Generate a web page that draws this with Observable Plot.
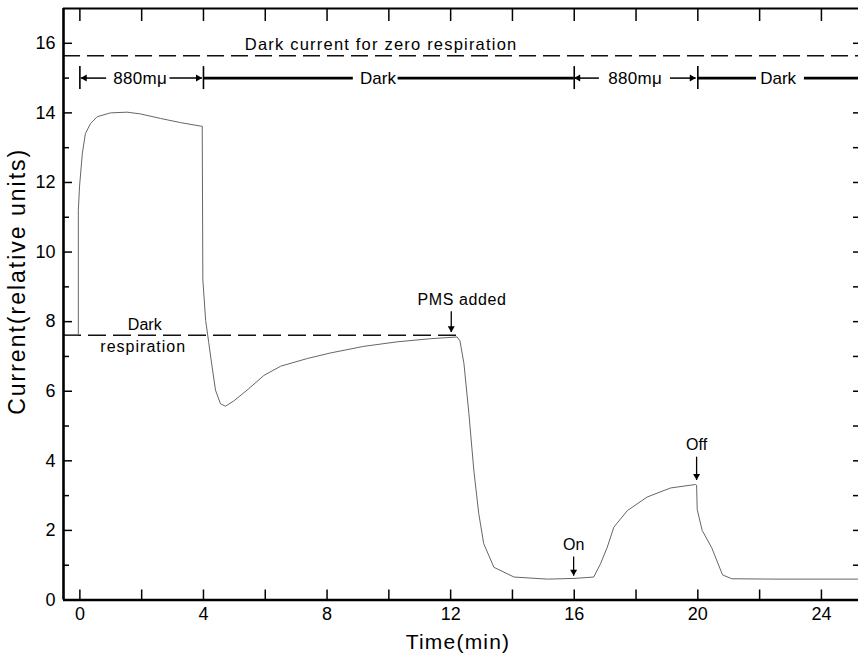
<!DOCTYPE html>
<html><head><meta charset="utf-8">
<script src="https://cdn.jsdelivr.net/npm/d3@7"></script>
<script src="https://cdn.jsdelivr.net/npm/@observablehq/plot@0.6"></script>
<style>body{margin:0;background:#fff}svg{display:block}</style>
</head><body><div id="chart"></div>
<script>
// Recorded trace: time (min) and current (relative units)
const time = [-0.54,-0.05,-0.05,-0.01,0.08,0.18,0.35,0.56,0.99,1.53,1.96,2.61,3.26,3.91,3.96,3.98,4.07,4.17,4.28,4.39,4.55,4.71,4.98,5.45,5.95,6.5,7.36,8.11,9.19,10.27,11.35,12.21,12.30,12.43,12.59,12.75,12.91,13.07,13.4,14.05,15.13,15.99,16.63,16.85,17.07,17.28,17.72,18.36,19.12,19.93,19.96,19.98,20.14,20.45,20.8,21.1,22.5,25.2];
const current = [7.62,7.62,11.2,11.9,12.84,13.41,13.70,13.89,14.00,14.02,13.97,13.84,13.72,13.62,13.62,9.2,8.04,7.40,6.70,6.03,5.64,5.57,5.72,6.06,6.45,6.72,6.94,7.10,7.29,7.42,7.51,7.56,7.45,6.8,5.36,3.73,2.48,1.62,0.94,0.66,0.60,0.62,0.66,1.04,1.52,2.09,2.57,2.96,3.22,3.32,3.30,2.6,2.0,1.5,0.72,0.61,0.60,0.60];

// Axis ticks
const xTickLabels = [0,4,8,12,16,20,24];
const xTicks = [0,2,4,6,8,10,12,14,16,18,20,22,24];
const yTickLabels = [0,2,4,6,8,10,12,14,16];
const yMinorTicks = [1,3,5,7,9,11,13,15];
const yAllTicks = [1,2,3,4,5,6,7,8,9,10,11,12,13,14,15,16];

// Reference levels
const zeroRespLevel = 15.64;
const darkRespLevel = 7.61;
const darkRespEnd = 12.2;
const bracketLevel = 15.0;

// Illumination bracket row
const bracketBars = [0, 4, 16, 20];
const bracketLabels = ["880mμ", "Dark", "880mμ", "Dark"];
const bracketLabelX = [1.95, 9.65, 17.97, 22.6];
const bracketArrowFrom = [0.85, 2.9, 16.8, 19.1];
const bracketArrowTo = [0.03, 3.95, 16.0, 19.93];
const bracketArrowDir = [-1, 1, -1, 1];
const darkLineFrom = [4.0, 10.3, 20.0, 23.45];
const darkLineTo = [8.85, 16.0, 21.9, 25.2];

// Event annotations
const eventLabels = ["PMS added", "On", "Off"];
const eventX = [12.02, 15.98, 19.96];
const eventLabelX = [12.37, 15.98, 19.96];
const eventLabelY = [8.62, 1.58, 4.45];
const eventArrowTop = [8.3, 1.25, 4.12];
const eventArrowTip = [7.7, 0.7, 3.45];

// Axis titles
const yTitle = "Current(relative units)";
const yTitleCenter = 9.16;
const xTitle = "Time(min)";

const xMin = -0.53, xMax = 25.2;

const trace = time.map((t, i) => ({t, c: current[i]}));
const brLab = bracketLabels.map((s, i) => ({s, x: bracketLabelX[i]}));
const brArr = bracketArrowFrom.map((x1, i) => ({x1, x2: bracketArrowTo[i], dir: bracketArrowDir[i]}));
const drkLn = darkLineFrom.map((x1, i) => ({x1, x2: darkLineTo[i]}));
const events = eventLabels.map((s, i) => ({s, x: eventX[i], lx: eventLabelX[i], ly: eventLabelY[i], y1: eventArrowTop[i], y2: eventArrowTip[i]}));

const font = "Liberation Sans, Arial, sans-serif";
const headR = 2.6, headOff = 3.9;

const chart = Plot.plot({
  width: 858,
  height: 663,
  marginLeft: 63,
  marginRight: 0,
  marginTop: 8,
  marginBottom: 63.5,
  style: {fontFamily: font, background: "#fff", color: "#000"},
  x: {domain: [xMin, xMax]},
  y: {domain: [0, 17]},
  marks: [
    // zero-respiration dashed line
    Plot.ruleY([zeroRespLevel], {x1: xMin, x2: xMax, stroke: "#111", strokeWidth: 1.5, strokeDasharray: "17,7"}),
    Plot.text(["Dark current for zero respiration"], {x: 9.75, y: 15.97, fontSize: 16.5, fill: "#000"}),
    // bracket row
    Plot.ruleX(bracketBars, {x: d => d, y1: bracketLevel - 0.33, y2: bracketLevel + 0.33, stroke: "#000", strokeWidth: 1.6}),
    Plot.link(brArr, {x1: "x1", x2: "x2", y1: bracketLevel, y2: bracketLevel, stroke: "#000", strokeWidth: 1.5}),
    Plot.dot(brArr.filter(d => d.dir < 0), {x: "x2", y: bracketLevel, symbol: "triangle", rotate: -90, r: headR, dx: headOff, fill: "#000", stroke: "none"}),
    Plot.dot(brArr.filter(d => d.dir > 0), {x: "x2", y: bracketLevel, symbol: "triangle", rotate: 90, r: headR, dx: -headOff, fill: "#000", stroke: "none"}),
    Plot.ruleY(drkLn, {y: bracketLevel, x1: "x1", x2: "x2", stroke: "#000", strokeWidth: 2.6}),
    Plot.text(brLab, {x: "x", y: bracketLevel, text: "s", fontSize: 17, fill: "#000"}),
    // dark respiration dashed line
    Plot.ruleY([darkRespLevel], {x1: xMin, x2: darkRespEnd, stroke: "#111", strokeWidth: 1.5, strokeDasharray: "18,7"}),
    Plot.text(["Dark"], {x: 2.1, y: 7.9, fontSize: 16, fill: "#000"}),
    Plot.text(["respiration"], {x: 2.05, y: 7.27, fontSize: 16, fill: "#000"}),
    // trace
    Plot.line(trace, {x: "t", y: "c", stroke: "#666", strokeWidth: 1}),
    // events
    Plot.link(events, {x1: "x", x2: "x", y1: "y1", y2: "y2", stroke: "#000", strokeWidth: 1.3}),
    Plot.dot(events, {x: "x", y: "y2", symbol: "triangle", rotate: 180, r: headR, dy: -headOff, fill: "#000", stroke: "none"}),
    Plot.text(events, {x: "lx", y: "ly", text: "s", fontSize: 16, fill: "#000"}),
    // frame
    Plot.ruleX([xMin], {stroke: "#000", strokeWidth: 2.6}),
    Plot.ruleY([0], {stroke: "#000", strokeWidth: 2.6}),
    Plot.ruleY([17], {stroke: "#000", strokeWidth: 2}),
    // axes
    Plot.axisX(xTickLabels, {anchor: "bottom", tickSize: 0, tickPadding: 7, fontSize: 18, label: null}),
    Plot.axisX(xTicks, {anchor: "bottom", tickSize: -10, text: null, label: null, strokeWidth: 1.5}),
    Plot.axisX(xTicks, {anchor: "top", tickSize: -12, text: null, label: null, strokeWidth: 1.5}),
    Plot.axisY(yTickLabels, {anchor: "left", tickSize: 0, tickPadding: 8, fontSize: 18, label: null}),
    Plot.axisY(yTickLabels, {anchor: "left", tickSize: -9, text: null, label: null, strokeWidth: 1.5}),
    Plot.axisY(yMinorTicks, {anchor: "left", tickSize: -6, text: null, label: null, strokeWidth: 1.5}),
    Plot.axisY(yAllTicks, {anchor: "right", tickSize: -6, text: null, label: null, strokeWidth: 1.5}),
    // axis titles
    Plot.text([yTitle], {x: xMin, y: yTitleCenter, dx: -46, rotate: -90, fontSize: 23, fill: "#000"}),
    Plot.text([xTitle], {frameAnchor: "bottom", dy: 48.5, dx: -3, fontSize: 21, fill: "#000"})
  ]
});

// widen letter spacing of the lettering to match the original typeface
const spacing = {
  "Dark current for zero respiration": 1.2,
  "Current(relative units)": 2,
  "Time(min)": 1.2,
  "respiration": 1,
  "PMS added": 0.6,
  "880mμ": 0.3
};
d3.select(chart).selectAll("text").each(function() {
  const s = spacing[this.textContent];
  if (s) this.setAttribute("letter-spacing", s);
});
document.getElementById("chart").appendChild(chart);
</script>
</body></html>
